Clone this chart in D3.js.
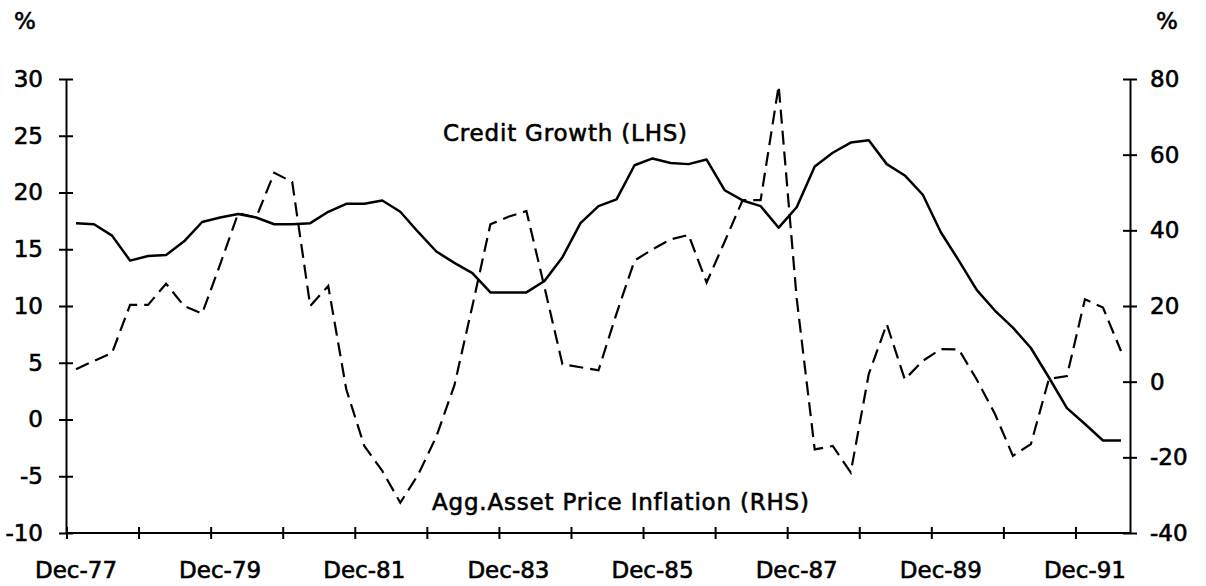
<!DOCTYPE html>
<meta charset="utf-8">

<!-- Load d3.js -->
<script src="https://d3js.org/d3.v7.min.js"></script>

<style>
body {
  margin: 0;
  background: #fff;
}
#my_dataviz svg text {
  font-family: "DejaVu Sans", sans-serif;
  font-size: 23px;
  fill: #000;
  stroke: #000;
  stroke-width: 0.6px;
}
.note {
  letter-spacing: 0.8px;
}
</style>

<div id="my_dataviz"></div>

<script>

// quarterly categories, Dec-77 .. Jun-92
var quarters = [
  "Dec-77",
  "Mar-78","Jun-78","Sep-78","Dec-78",
  "Mar-79","Jun-79","Sep-79","Dec-79",
  "Mar-80","Jun-80","Sep-80","Dec-80",
  "Mar-81","Jun-81","Sep-81","Dec-81",
  "Mar-82","Jun-82","Sep-82","Dec-82",
  "Mar-83","Jun-83","Sep-83","Dec-83",
  "Mar-84","Jun-84","Sep-84","Dec-84",
  "Mar-85","Jun-85","Sep-85","Dec-85",
  "Mar-86","Jun-86","Sep-86","Dec-86",
  "Mar-87","Jun-87","Sep-87","Dec-87",
  "Mar-88","Jun-88","Sep-88","Dec-88",
  "Mar-89","Jun-89","Sep-89","Dec-89",
  "Mar-90","Jun-90","Sep-90","Dec-90",
  "Mar-91","Jun-91","Sep-91","Dec-91",
  "Mar-92","Jun-92"
];

// Credit Growth (LHS), %
var creditGrowth = [
  17.3, 17.2, 16.2, 14.0, 14.4, 14.5, 15.7, 17.4, 17.8, 18.1,
  17.8, 17.2, 17.2, 17.3, 18.3, 19.0, 19.0, 19.3, 18.3, 16.5,
  14.8, 13.8, 12.9, 11.2, 11.2, 11.2, 12.2, 14.3, 17.3, 18.8,
  19.4, 22.4, 23.0, 22.6, 22.5, 22.9, 20.2, 19.3, 18.8, 16.9,
  18.7, 22.3, 23.5, 24.4, 24.6, 22.5, 21.5, 19.8, 16.5, 14.0,
  11.4, 9.6, 8.1, 6.3, 3.7, 1.0, -0.4, -1.85, -1.85
];

// Agg. Asset Price Inflation (RHS), %
var assetInflation = [
  3.3, 5.5, 7.6, 20.3, 20.3, 25.9, 20.0, 18.0, 31.0, 44.5,
  43.4, 55.2, 52.8, 20.0, 25.3, -2.0, -17.0, -23.6, -32.0, -24.5,
  -14.5, -1.0, 20.0, 41.6, 43.6, 45.1, 25.0, 4.6, 3.8, 3.0,
  18.0, 32.0, 35.0, 37.6, 38.8, 26.2, 37.0, 48.0, 48.0, 78.2,
  22.0, -17.9, -17.0, -24.0, 2.0, 15.2, 0.6, 5.5, 8.6, 8.5,
  0.5, -8.5, -19.6, -16.5, 0.7, 1.5, 21.8, 19.6, 8.1
];

var leftTicks = [-10, -5, 0, 5, 10, 15, 20, 25, 30];
var rightTicks = [-40, -20, 0, 20, 40, 60, 80];
var xLabels = ["Dec-77","Dec-79","Dec-81","Dec-83","Dec-85","Dec-87","Dec-89","Dec-91"];

var width = 1206,
    height = 586,
    plotLeft = 67, plotRight = 1130, plotTop = 79, plotBottom = 533;

var svg = d3.select("#my_dataviz")
  .append("svg")
    .attr("width", width)
    .attr("height", height);

// scales
var x = d3.scaleBand()
  .domain(quarters)
  .range([plotLeft, plotRight]);
var yL = d3.scaleLinear()
  .domain([-10, 30])
  .range([plotBottom, plotTop]);
var yR = d3.scaleLinear()
  .domain([-40, 80])
  .range([plotBottom, plotTop]);

var cx = function(i) { return x(quarters[i]) + x.bandwidth() / 2; };
// plain hyphen for negatives, like the original
var plain = function(d) { return String(d); };

// left axis
var gl = svg.append("g")
  .attr("transform", "translate(" + (plotLeft - 1) + ",0)")
  .call(d3.axisLeft(yL).tickValues(leftTicks).tickFormat(plain)
    .tickSize(7).tickSizeOuter(0).tickPadding(16));
gl.selectAll(".tick line").attr("x1", 7).attr("stroke-width", 2);
gl.select(".domain").attr("stroke-width", 2);

// right axis
var gr = svg.append("g")
  .attr("transform", "translate(" + plotRight + ",0)")
  .call(d3.axisRight(yR).tickValues(rightTicks).tickFormat(plain)
    .tickSize(7).tickSizeOuter(0).tickPadding(13));
gr.selectAll(".tick line").attr("x1", -7).attr("stroke-width", 2);
gr.select(".domain").attr("stroke-width", 2);

// bottom axis line + ticks at every year boundary
svg.append("line")
  .attr("x1", plotLeft - 1).attr("x2", plotRight)
  .attr("y1", plotBottom).attr("y2", plotBottom)
  .attr("stroke", "#000").attr("stroke-width", 2);

svg.selectAll(".xtick")
  .data(quarters.filter(function(d, i) { return i % 4 == 0; }))
  .enter()
  .append("line")
    .attr("x1", function(d) { return x(d); })
    .attr("x2", function(d) { return x(d); })
    .attr("y1", plotBottom - 6)
    .attr("y2", plotBottom + 6)
    .attr("stroke", "#000")
    .attr("stroke-width", 2);

svg.selectAll(".xlabel")
  .data(xLabels)
  .enter()
  .append("text")
    .attr("x", function(d) { return x(d) + x.bandwidth() / 2; })
    .attr("y", 578)
    .attr("text-anchor", "middle")
    .text(function(d) { return d; });

// % unit labels
svg.append("text").attr("x", 14).attr("y", 29).text("%");
svg.append("text").attr("x", 1156).attr("y", 29).text("%");

// lines
var credLine = d3.line()
  .x(function(d, i) { return cx(i); })
  .y(function(d) { return yL(d); });
var assetLine = d3.line()
  .x(function(d, i) { return cx(i); })
  .y(function(d) { return yR(d); });

svg.append("path")
  .datum(assetInflation)
  .attr("fill", "none")
  .attr("stroke", "#000")
  .attr("stroke-width", 2.2)
  .attr("stroke-dasharray", "14,7")
  .attr("d", assetLine);

svg.append("path")
  .datum(creditGrowth)
  .attr("fill", "none")
  .attr("stroke", "#000")
  .attr("stroke-width", 2.5)
  .attr("stroke-linejoin", "round")
  .attr("d", credLine);

// series notes
svg.append("text")
  .attr("class", "note")
  .attr("x", 443).attr("y", 141)
  .text("Credit Growth (LHS)");
svg.append("text")
  .attr("class", "note")
  .attr("x", 432).attr("y", 510)
  .text("Agg.Asset Price Inflation (RHS)");

</script>
